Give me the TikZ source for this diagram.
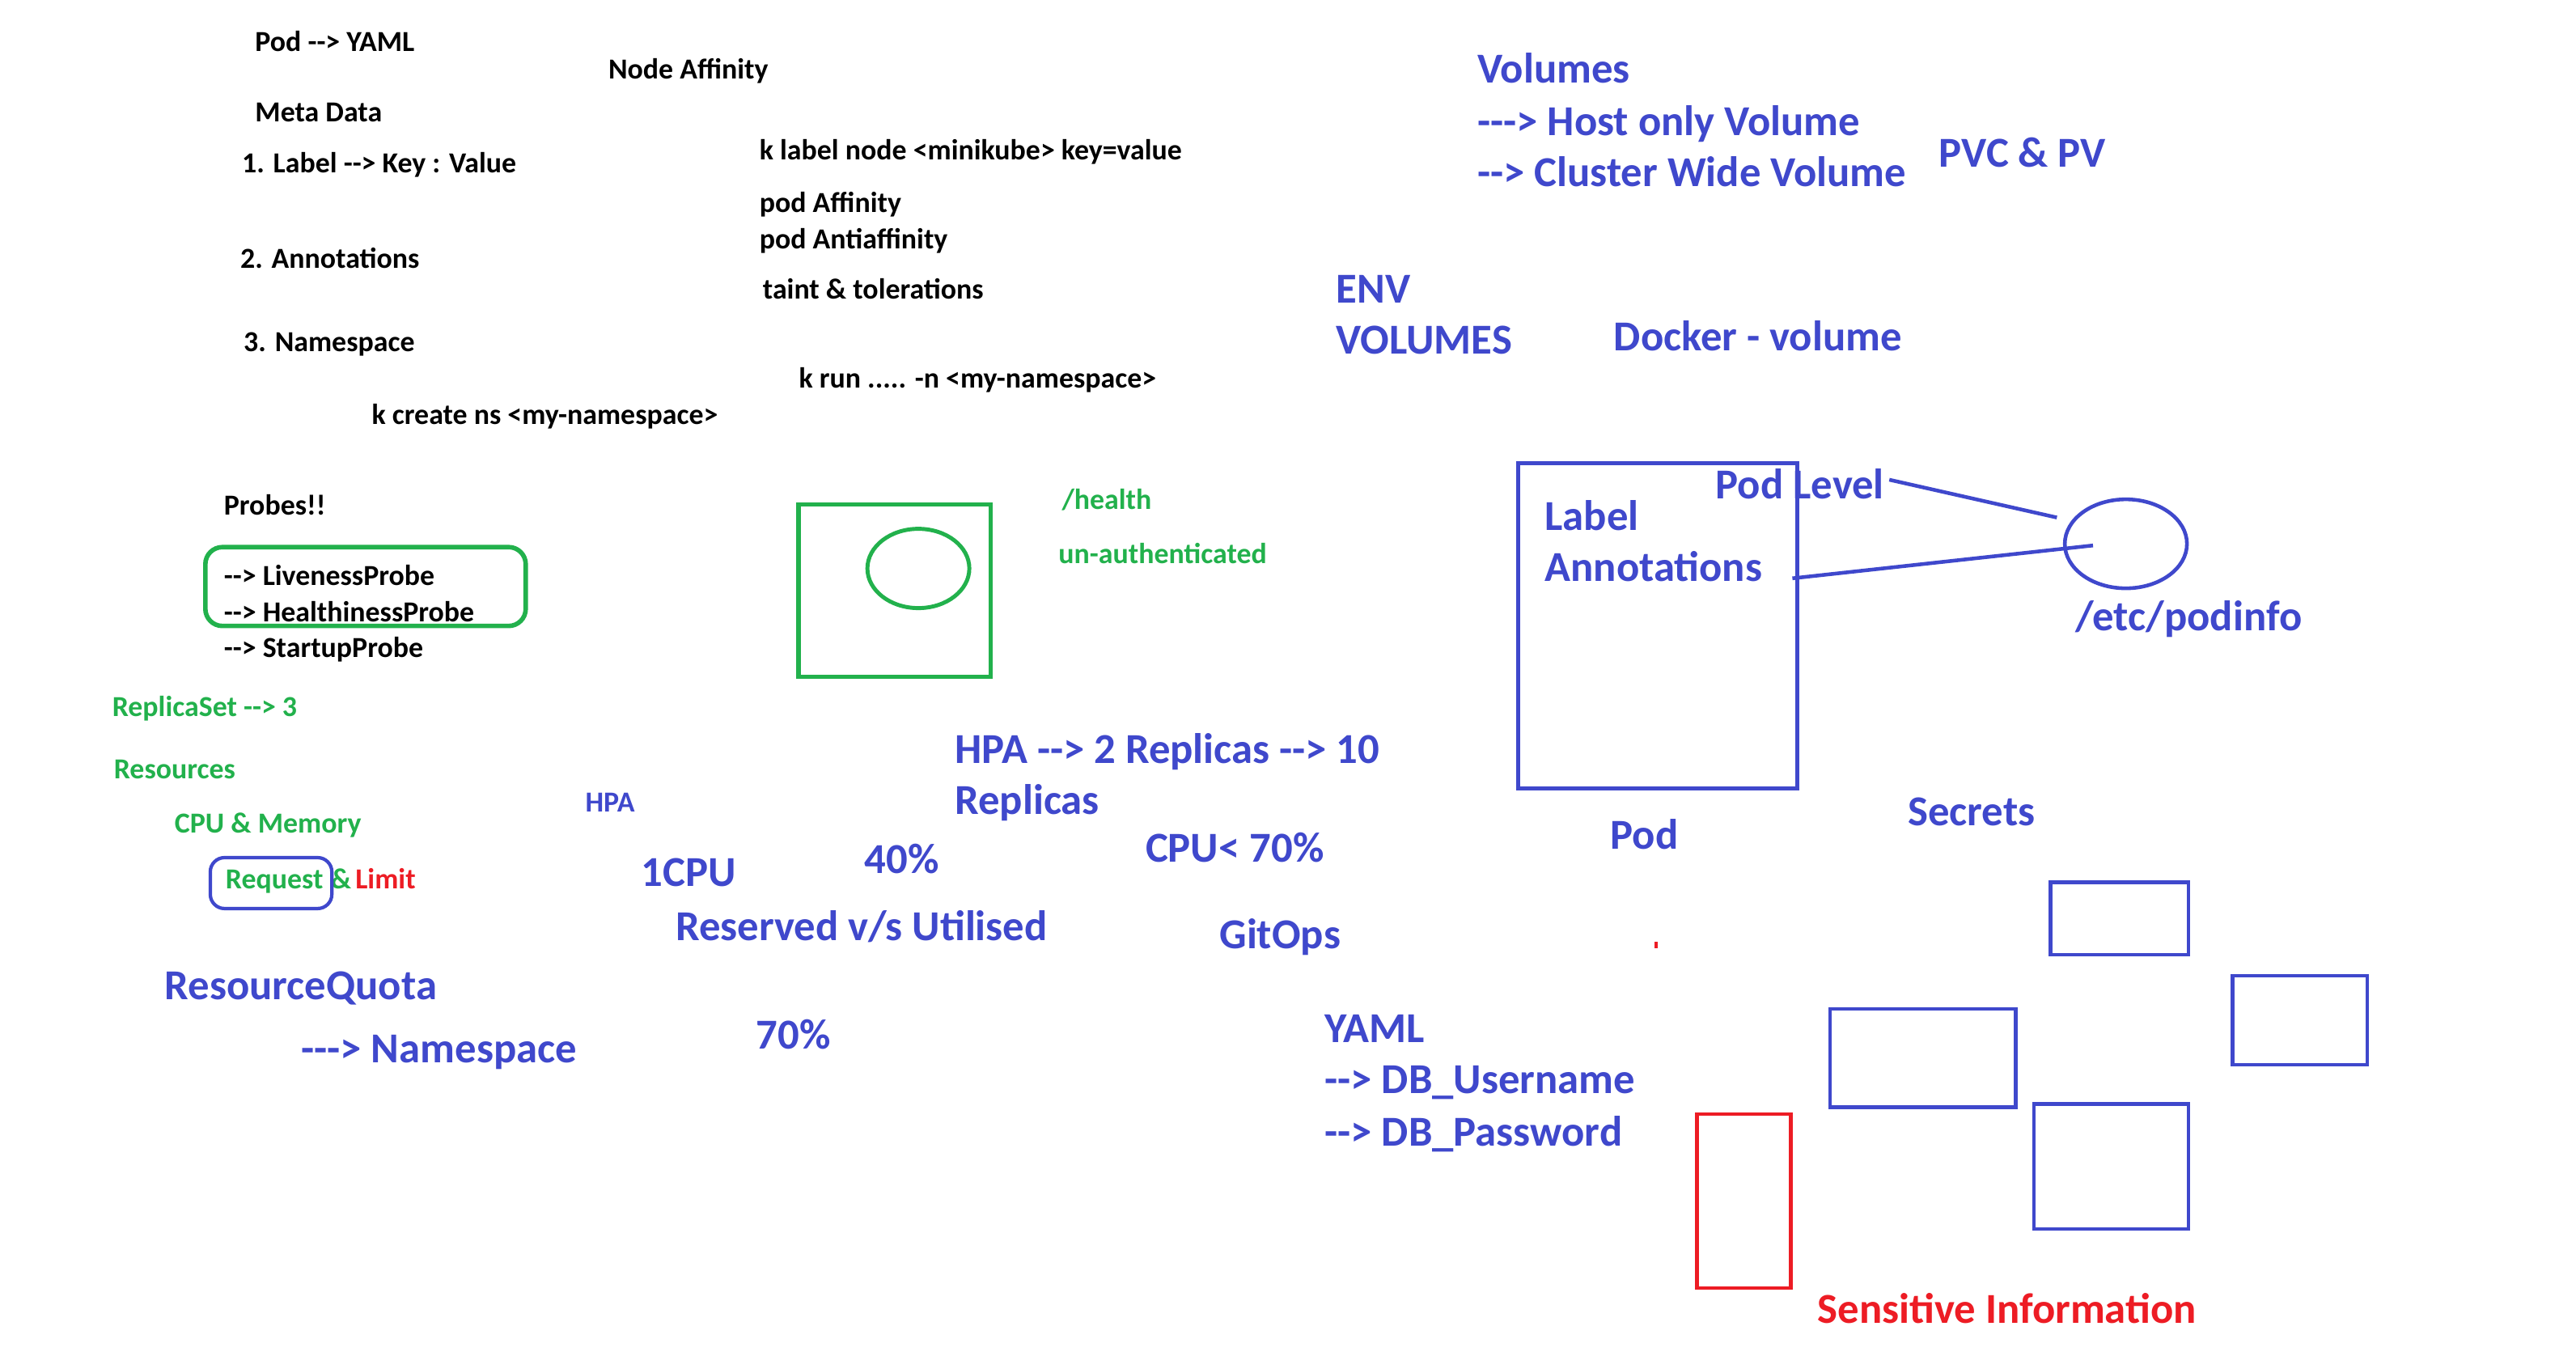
\documentclass[tikz,border=0pt]{standalone}
\usepackage{fontspec}
\setmainfont{Carlito}[Ligatures=TeXOff]
\usetikzlibrary{shapes.geometric,fit}
\definecolor{pblue}{HTML}{3F48CC}
\definecolor{pgreen}{HTML}{22B14C}
\definecolor{pred}{HTML}{ED1C24}
\begin{document}
\begin{tikzpicture}[x=0.020306cm,y=-0.020306cm,
  txt/.style={anchor=west, inner sep=0pt, yshift=-0.6pt, font=\fontsize{10.2}{12}\selectfont\bfseries, text height=1.5ex, text depth=0.25ex},
  blk/.style={txt, text=black},
  grn/.style={txt, text=pgreen},
  sblu/.style={txt, text=pblue},
  blu/.style={txt, text=pblue, yshift=-1.4pt, font=\fontsize{15}{18}\selectfont\bfseries},
  redt/.style={blu, text=pred},
  bbox/.style={draw=pblue, line width=1.3pt, inner sep=0pt},
  gbox/.style={draw=pgreen, line width=1.6pt, inner sep=0pt},
  rbox/.style={draw=pred, line width=1.3pt, inner sep=0pt},
  link/.style={draw=pblue, line width=1.3pt}
]
\fill[white] (0,0) rectangle (1568,824.9);
\useasboundingbox (0,0) rectangle (1568,824.9);

% black notes
\node[blk] (podyaml) at (155,25) {Pod --> YAML};
\node[blk] (nodeaff) at (370,42) {Node Affinity};
\node[blk] (meta) at (155,68) {Meta Data};
\node[blk] (label1) at (147,99) {1. Label --> Key : Value};
\node[blk] (klabel) at (462,91) {k label node <minikube> key=value};
\node[blk] (podaff) at (462,123) {pod Affinity};
\node[blk] (podanti) at (462,145) {pod Antiaffinity};
\node[blk] (annot2) at (146,157) {2. Annotations};
\node[blk] (taint) at (464,176) {taint \& tolerations};
\node[blk] (ns3) at (148,208) {3. Namespace};
\node[blk] (krun) at (486,230) {k run ..... -n <my-namespace>};
\node[blk] (kcreate) at (226,252) {k create ns <my-namespace>};
\node[blk] (probes) at (136,307) {Probes!!};
\node[blk] (live) at (136,350) {--> LivenessProbe};
\node[blk] (healthp) at (136,372) {--> HealthinessProbe};
\node[blk] (startup) at (136,394) {--> StartupProbe};
\node[gbox, rounded corners=6pt, fit={(125,333) (320,381)}] (probebox) {};

% green notes
\node[grn] (rs) at (68,430) {ReplicaSet --> 3};
\node[grn] (res) at (69,468) {Resources};
\node[grn] (cpumem) at (106,501) {CPU \& Memory};
\node[grn] (req) at (137,535) {Request};
\node[grn] (amp) at (201,535) {\&};
\node[txt, text=pred] (limit) at (216,535) {Limit};
\node[draw=pblue, line width=1.2pt, inner sep=0pt, rounded corners=5pt, fit={(128,522) (202,553)}] (reqbox) {};
\node[grn] (health) at (646,304) {/health};
\node[grn] (unauth) at (644,337) {un-authenticated};
\node[gbox, fit={(486,307) (603,412)}] (hbox) {};
\node[draw=pgreen, line width=1.4pt, ellipse, minimum width=1.26cm, minimum height=0.98cm, inner sep=0pt] (hcirc) at (559,346) {};

% blue notes
\node[sblu] (hpa) at (356,488) {HPA};
\node[blu] (cpu1) at (390,531) {1CPU};
\node[blu] (p40) at (526,523) {40\%};
\node[blu] (resv) at (411,564) {Reserved v/s Utilised};
\node[blu] (hpa2) at (581,456) {HPA --> 2 Replicas --> 10};
\node[blu] (repl) at (581,487) {Replicas};
\node[blu] (cpu70) at (697,516) {CPU< 70\%};
\node[blu] (gitops) at (742,569) {GitOps};
\node[blu] (rq) at (100,600) {ResourceQuota};
\node[blu] (nsq) at (183,638) {---> Namespace};
\node[blu] (p70) at (460,630) {70\%};
\node[blu] (yaml) at (806,626) {YAML};
\node[blu] (dbu) at (806,657) {--> DB\_Username};
\node[blu] (dbp) at (806,689) {--> DB\_Password};
\node[blu] (vol) at (899,42) {Volumes};
\node[blu] (host) at (899,74) {---> Host only Volume};
\node[blu] (cluster) at (899,105) {--> Cluster Wide Volume};
\node[blu] (pvc) at (1180,93) {PVC \& PV};
\node[blu] (env) at (813,176) {ENV};
\node[blu] (vols) at (813,207) {VOLUMES};
\node[blu] (docker) at (982,205) {Docker - volume};

% pod box
\node[bbox, fit={(924,282) (1094,480)}] (podbox) {};
\node[blu] (lab) at (940,314) {Label};
\node[blu] (ann) at (940,345) {Annotations};
\node[blu] (podlevel) at (1044,295) {Pod Level};
\node[draw=pblue, line width=1.3pt, ellipse, minimum width=1.51cm, minimum height=1.10cm, inner sep=0pt] (pinfo) at (1294,331) {};
\node[blu] (etc) at (1263,375) {/etc/podinfo};
\coordinate (l1a) at (1150,292);
\coordinate (l1b) at (1252,315);
\coordinate (l2a) at (1091,352);
\coordinate (l2b) at (1274,332);
\draw[link] (l1a) -- (l1b);
\draw[link] (l2a) -- (l2b);
\node[blu] (podt) at (980,508) {Pod};
\node[blu] (secrets) at (1161,494) {Secrets};

% secret boxes
\node[bbox, fit={(1248,537) (1332,581)}] (s1) {};
\node[bbox, fit={(1359,594) (1441,648)}] (s2) {};
\node[bbox, fit={(1114,614) (1227,674)}] (s3) {};
\node[bbox, fit={(1238,672) (1332,748)}] (s4) {};
\node[rbox, fit={(1033,678) (1090,784)}] (redbox) {};
\fill[pred] (1007,573) rectangle (1009,577);
\node[redt] (sens) at (1106,797) {Sensitive Information};
\end{tikzpicture}
\end{document}
